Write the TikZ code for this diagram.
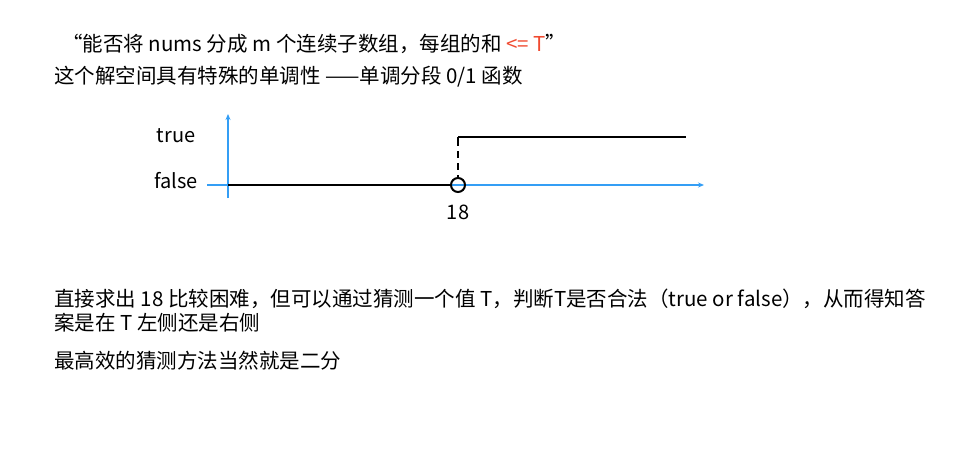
\documentclass[tikz,border=0pt]{standalone}
\usepackage{fontspec}
\setmainfont{Noto Sans CJK SC}
\usetikzlibrary{arrows.meta}
\definecolor{axisblue}{RGB}{52,158,245}
\definecolor{redT}{RGB}{240,74,48}
\tikzset{
  txt/.style={anchor=west, inner sep=0pt, font=\fontsize{20.5}{24}\selectfont},
  lbl/.style={inner sep=0pt, font=\fontsize{20}{24}\selectfont},
  axis/.style={draw=axisblue, line width=1.5pt, -{Stealth[length=6pt,width=5pt]}},
  fn/.style={draw=black, line width=2pt},
}
\begin{document}
\begin{tikzpicture}[x=1pt,y=-1pt]
\useasboundingbox (0,0) rectangle (968,460);
\node[txt] (l1) at (62,44) {“能否将 nums 分成 m 个连续子数组，每组的和 \textcolor{redT}{<= T}”};
\node[txt] (l2) at (54,77) {这个解空间具有特殊的单调性 ——单调分段 0/1 函数};
% axes
\coordinate (o) at (228,185);
\coordinate (ybot) at (228,198);
\coordinate (ytop) at (228,114);
\coordinate (xleft) at (207,185);
\coordinate (xright) at (704,185);
\draw[axis] (ybot) -- (ytop);
\draw[axis] (xleft) -- (xright);
\node[lbl] (true) at (176,136) {true};
\node[lbl] (false) at (176,181) {false};
% function
\node[circle, draw=black, line width=2pt, minimum size=14pt, inner sep=0pt] (c) at (458,185) {};
\coordinate (top) at (458,137);
\coordinate (tend) at (686,137);
\draw[fn] (o) -- (c.west);
\draw[fn, dash pattern=on 9pt off 5pt on 7pt off 5pt on 7pt off 5pt] (top) -- (c.north);
\draw[fn] (top) -- (tend);
\node[lbl] (n18) at (458,212) {18};
\node[txt] (p1) at (54,299) {直接求出 18 比较困难，但可以通过猜测一个值 T，判断T是否合法（true or false），从而得知答};
\node[txt] (p2) at (54,323) {案是在 T 左侧还是右侧};
\node[txt] (p3) at (54,361) {最高效的猜测方法当然就是二分};
\end{tikzpicture}
\end{document}
